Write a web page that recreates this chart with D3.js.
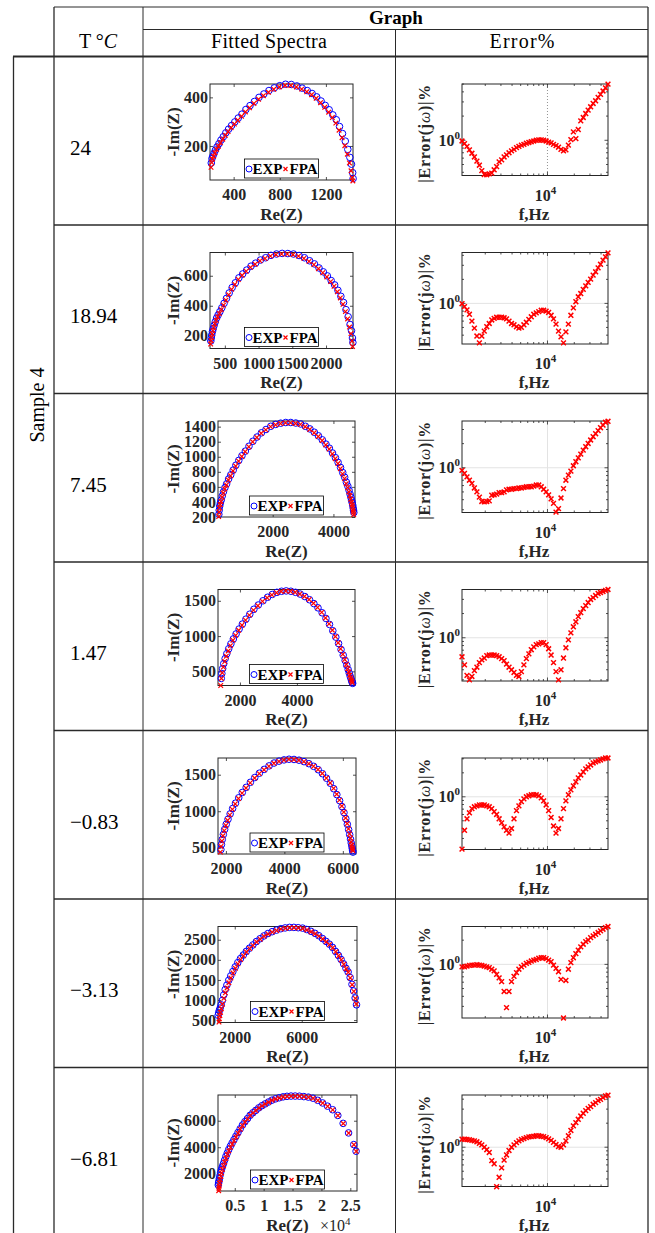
<!DOCTYPE html>
<html><head><meta charset="utf-8">
<script src="https://cdn.jsdelivr.net/npm/d3@7"></script>
<style>body{margin:0;background:#fff}svg{display:block}</style>
</head><body>
<svg id="chart" width="655" height="1233"></svg>
<script>
// ---------------- DATA ----------------
const temps = ["24", "18.94", "7.45", "1.47", "\u22120.83", "\u22123.13", "\u22126.81"];
const sampleLabel = "Sample 4";

// frequency grid of the error plots (Hz)
const freqHz = [1096,1169,1247,1328,1416,1510,1611,1718,1829,1950,2080,2218,2366,2518,2685,2864,3055,3258,3467,3698,
  3945,4207,4487,4775,5093,5433,5794,6180,6577,7015,7482,7980,8511,9057,9661,10304,10990,11695,12474,13305,
  14191,15136,16106,17179,18323,19543,20845,22182,23659,25235,26915,28642,30549,32584,34754,37068,39446,42073,44875,47863];

// |Error(jw)| % per temperature
const err24 = [0.98,0.91,0.84,0.76,0.69,0.62,0.55,0.49,0.42,0.376,0.373,0.383,0.39,0.43,0.47,0.54,0.57,0.62,0.66,0.70,
  0.74,0.77,0.81,0.84,0.87,0.89,0.92,0.94,0.96,0.98,1.0,1.01,1.01,1.0,0.98,0.95,0.93,0.89,0.86,0.82,
  0.77,0.74,0.76,0.87,1.02,1.27,1.05,1.36,1.74,1.92,2.15,2.37,2.61,2.87,3.10,3.41,3.72,4.10,4.47,5.0];
const err1894 = [0.99,0.91,0.83,0.73,0.60,0.49,0.39,0.32,0.39,0.45,0.51,0.56,0.62,0.65,0.67,0.67,0.67,0.66,0.64,0.60,
  0.56,0.54,0.51,0.49,0.50,0.54,0.58,0.63,0.68,0.73,0.76,0.79,0.82,0.82,0.80,0.77,0.71,0.64,0.55,0.45,
  0.38,0.32,0.44,0.55,0.71,0.88,1.05,1.21,1.33,1.50,1.66,1.83,2.01,2.26,2.49,2.79,3.09,3.48,3.83,4.3];
const err745 = [0.93,0.85,0.77,0.70,0.64,0.56,0.50,0.43,0.38,0.376,0.38,0.386,0.455,0.46,0.47,0.49,0.49,0.50,0.53,0.54,
  0.54,0.55,0.55,0.56,0.56,0.57,0.58,0.58,0.58,0.59,0.61,0.61,0.58,0.54,0.50,0.46,0.41,0.36,0.28,0.31,
  0.42,0.55,0.70,0.81,0.91,1.06,1.19,1.33,1.48,1.66,1.83,2.01,2.22,2.44,2.66,2.90,3.16,3.41,3.69,3.80];
const err147 = [0.58,0.46,0.34,0.30,0.33,0.39,0.43,0.49,0.53,0.56,0.60,0.61,0.61,0.61,0.60,0.58,0.55,0.52,0.47,0.43,
  0.40,0.37,0.34,0.33,0.38,0.46,0.55,0.63,0.71,0.77,0.82,0.84,0.87,0.87,0.82,0.73,0.61,0.49,0.38,0.30,
  0.40,0.56,0.75,0.94,1.15,1.37,1.58,1.83,2.05,2.30,2.51,2.74,2.99,3.16,3.35,3.55,3.65,3.76,3.87,3.98];
const errM083 = [0.22,0.38,0.53,0.63,0.71,0.75,0.77,0.79,0.79,0.79,0.77,0.75,0.71,0.65,0.60,0.53,0.47,0.42,0.38,0.35,
  0.40,0.53,0.67,0.77,0.87,0.94,1.0,1.03,1.06,1.06,1.06,1.03,0.97,0.89,0.79,0.67,0.55,0.43,0.35,0.40,
  0.53,0.71,0.89,1.06,1.22,1.37,1.54,1.73,1.88,2.05,2.24,2.37,2.51,2.66,2.74,2.82,2.90,2.99,3.07,3.07];
const errM313 = [0.93,0.93,0.95,0.97,0.98,0.98,0.99,0.98,0.97,0.95,0.93,0.91,0.87,0.83,0.75,0.68,0.61,0.46,0.29,0.46,
  0.61,0.71,0.79,0.87,0.93,0.98,1.03,1.06,1.10,1.13,1.15,1.19,1.21,1.21,1.18,1.13,1.08,0.98,0.89,0.81,
  0.65,0.215,0.63,0.87,1.05,1.21,1.36,1.50,1.65,1.78,1.92,2.01,2.15,2.26,2.37,2.49,2.61,2.74,2.87,2.96];
const errM681 = [1.26,1.26,1.25,1.24,1.22,1.20,1.17,1.12,1.07,1.0,0.93,0.86,0.68,0.62,0.32,0.42,0.55,0.69,0.80,0.91,
  1.0,1.07,1.14,1.20,1.25,1.28,1.32,1.35,1.36,1.37,1.39,1.39,1.37,1.36,1.32,1.27,1.22,1.15,1.08,1.02,
  1.0,1.07,1.20,1.39,1.62,1.85,2.03,2.24,2.46,2.66,2.87,3.07,3.22,3.45,3.62,3.83,3.98,4.18,4.39,4.5];
const errSeries = [err24, err1894, err745, err147, errM083, errM313, errM681];
const errYDomain = [[0.365,5.01],[0.31,4.34],[0.277,3.83],[0.29,3.98],[0.218,3.07],[0.215,2.96],[0.322,4.51]];

// Nyquist data: EXP (measured) and FPA (fitted)
const exp24Re = [206,212,220,230,242,256,272,290,310,332,356,382,410,440,472,506,542,580,620,662,706,752,800,850,900,948,994,1038,1080,1120,1158,1194,1228,1260,1290,1318,1344,1368,1390,1408,1422,1432,1436];
const exp24Im = [130,148,158,170,183,196,209,224,238,254,269,284,299,315,331,350,366,383,400,414,428,439,448,454,453,447,438,428,416,402,385,367,349,328,308,280,251,220,186,153,125,90,66];
const fpa24Re = [204,210,217,226,238,252,268,286,306,328,352,378,406,436,468,502,538,576,616,658,702,748,796,846,896,944,990,1034,1076,1116,1154,1190,1224,1256,1286,1314,1340,1364,1386,1404,1418,1428,1434];
const fpa24Im = [112,132,146,158,172,186,199,213,228,244,259,275,290,306,322,340,357,375,392,407,421,433,443,449,449,443,434,423,411,396,378,359,339,317,294,265,234,201,166,130,98,70,56];

const exp1894Re = [292,298,306,316,328,342,358,378,400,426,455,488,524,564,608,656,708,764,824,888,956,1028,1104,1184,1266,1350,1434,1518,1600,1680,1756,1828,1896,1960,2020,2076,2128,2176,2220,2260,2296,2328,2356,2378,2392,2398];
const exp1894Im = [165,185,205,228,248,270,293,318,338,360,386,416,449,485,521,553,586,612,638,664,684,705,720,736,745,749,748,745,735,720,700,679,652,626,599,568,539,503,463,422,374,327,275,233,185,155];
const fpa1894Re = [290,296,303,312,323,337,353,372,394,419,448,480,516,556,600,648,700,756,816,880,948,1020,1096,1176,1258,1342,1426,1510,1592,1672,1748,1820,1888,1952,2012,2068,2120,2168,2212,2252,2288,2320,2348,2370,2386,2394];
const fpa1894Im = [145,168,190,212,234,256,279,303,325,348,374,404,437,473,509,542,575,603,630,656,677,699,715,731,741,745,745,741,731,716,696,674,647,620,592,561,530,493,452,410,361,312,258,214,165,128];

const exp745Re = [228,240,256,278,306,340,380,428,484,548,620,700,788,884,988,1100,1220,1348,1484,1628,1780,1938,2100,2264,2430,2596,2760,2920,3076,3226,3370,3506,3634,3754,3866,3970,4066,4154,4234,4306,4370,4426,4474,4514,4548,4576,4600,4620,4636,4650,4662,4672];
const exp745Im = [235,290,345,385,425,480,535,590,640,705,760,823,888,952,1013,1075,1140,1206,1262,1318,1362,1405,1430,1446,1455,1455,1448,1436,1405,1370,1326,1278,1225,1168,1114,1050,988,925,858,790,728,662,610,555,503,460,420,388,357,320,290,260];
const fpa745Re = [222,234,250,272,300,334,374,422,478,542,614,694,782,878,982,1094,1214,1342,1478,1622,1774,1932,2094,2258,2424,2590,2754,2914,3070,3220,3364,3500,3628,3748,3860,3964,4060,4148,4228,4300,4364,4420,4468,4508,4542,4570,4594,4614,4630,4644,4656,4666];
const fpa745Im = [205,265,322,365,405,462,518,574,626,691,747,811,877,942,1004,1067,1133,1199,1256,1312,1357,1400,1425,1441,1450,1450,1443,1430,1399,1363,1318,1269,1215,1157,1102,1037,974,910,842,773,710,643,590,534,481,437,396,362,330,292,262,230];

const exp147Re = [1345,1365,1394,1432,1480,1538,1605,1682,1769,1865,1971,2086,2211,2346,2490,2644,2808,2971,3135,3298,3462,3625,3789,3952,4116,4280,4443,4597,4741,4886,5020,5145,5261,5367,5463,5550,5626,5694,5751,5800,5838,5872,5901,5925,5944,5958];
const exp147Im = [400,470,540,610,680,750,820,890,960,1030,1100,1170,1240,1310,1380,1440,1500,1550,1590,1620,1635,1640,1635,1620,1595,1560,1515,1460,1400,1330,1250,1165,1075,985,895,810,730,655,585,525,475,430,395,365,345,330];
const fpa147Re = [1326,1350,1379,1418,1466,1523,1591,1668,1754,1850,1956,2072,2197,2331,2476,2630,2793,2957,3120,3284,3447,3611,3774,3938,4102,4265,4429,4583,4727,4871,5006,5131,5246,5352,5448,5535,5612,5679,5737,5785,5823,5857,5886,5910,5929,5944];
const fpa147Im = [300,400,480,560,640,715,790,865,940,1010,1082,1154,1226,1297,1368,1430,1492,1543,1584,1615,1632,1638,1634,1620,1596,1562,1518,1464,1405,1336,1257,1173,1084,994,905,820,741,667,598,539,490,446,411,382,362,340];

const expM083Re = [1828,1848,1876,1913,1958,2011,2072,2145,2230,2328,2438,2560,2694,2837,2987,3146,3309,3476,3646,3817,3988,4159,4330,4501,4672,4839,5001,5156,5303,5441,5571,5689,5795,5889,5970,6039,6100,6153,6198,6234,6263,6287,6308,6324,6336,6346];
const expM083Im = [475,544,613,682,751,821,890,963,1037,1110,1184,1257,1327,1396,1461,1521,1573,1621,1660,1686,1703,1712,1709,1699,1679,1651,1615,1569,1514,1452,1383,1308,1227,1145,1063,981,898,821,747,678,617,565,522,488,462,440];
const fpaM083Re = [1811,1832,1862,1899,1945,1999,2060,2134,2221,2319,2430,2553,2688,2831,2982,3142,3305,3471,3642,3813,3984,4155,4326,4497,4668,4835,4997,5152,5298,5437,5567,5685,5791,5884,5966,6035,6096,6149,6194,6230,6259,6283,6304,6320,6332,6343];
const fpaM083Im = [440,518,591,663,734,805,876,950,1025,1099,1174,1248,1318,1388,1454,1515,1568,1616,1656,1683,1701,1710,1708,1698,1679,1651,1616,1571,1517,1455,1387,1313,1233,1152,1071,989,908,831,758,690,630,579,537,503,478,457];

const expM313Re = [1010,1040,1080,1130,1190,1260,1340,1430,1530,1640,1760,1890,2030,2180,2340,2510,2690,2880,3080,3290,3510,3740,3980,4230,4490,4750,5010,5270,5530,5790,6050,6300,6550,6790,7020,7240,7450,7650,7840,8020,8190,8350,8500,8640,8770,8890,9000,9100,9190,9270];
const expM313Im = [620,680,740,800,880,990,1125,1260,1370,1490,1600,1710,1825,1930,2030,2120,2210,2290,2370,2455,2525,2595,2655,2700,2740,2775,2795,2808,2808,2800,2790,2755,2710,2660,2600,2530,2460,2390,2310,2210,2110,2010,1900,1790,1700,1560,1390,1225,1050,880];
const fpaM313Re = [1060,1080,1110,1150,1200,1270,1350,1440,1540,1650,1770,1900,2040,2190,2350,2520,2700,2890,3090,3300,3520,3750,3990,4240,4500,4760,5020,5280,5540,5800,6060,6310,6560,6800,7030,7250,7460,7660,7850,8030,8200,8360,8510,8650,8780,8900,9010,9110,9200,9260];
const fpaM313Im = [450,530,610,690,780,900,1040,1180,1300,1430,1550,1670,1790,1900,2005,2100,2195,2280,2360,2445,2515,2585,2645,2690,2730,2765,2785,2798,2800,2793,2780,2745,2700,2650,2590,2520,2450,2380,2300,2200,2100,2000,1890,1780,1690,1550,1380,1215,1040,900];

const expM681Re = [2150,2200,2260,2340,2440,2560,2700,2860,3040,3240,3460,3700,3960,4240,4540,4860,5200,5560,5940,6340,6760,7200,7660,8140,8640,9160,9700,10260,10840,11440,12060,12700,13360,14040,14740,15460,16200,16960,17740,18540,19360,20200,21060,21940,22840,23760,24700,25600,26000];
const expM681Im = [1150,1300,1450,1640,1860,2100,2330,2540,2760,3020,3300,3560,3830,4080,4320,4570,4830,5110,5390,5680,5930,6160,6410,6600,6780,6970,7130,7270,7410,7550,7650,7730,7800,7840,7860,7860,7850,7820,7780,7700,7540,7340,7100,6830,6400,5800,5080,4200,3700];
const fpaM681Re = [2220,2260,2310,2380,2470,2580,2720,2880,3060,3260,3480,3720,3980,4260,4560,4880,5220,5580,5960,6360,6780,7220,7680,8160,8660,9180,9720,10280,10860,11460,12080,12720,13380,14060,14760,15480,16220,16980,17760,18560,19380,20220,21080,21960,22860,23780,24720,25620,26020];
const fpaM681Im = [720,900,1080,1300,1550,1800,2060,2330,2600,2880,3170,3450,3730,3990,4240,4500,4770,5060,5350,5640,5900,6140,6390,6590,6770,6960,7120,7260,7400,7540,7640,7720,7790,7830,7850,7850,7840,7810,7770,7690,7530,7330,7090,6820,6390,5790,5070,4190,3690];

const expRe = [exp24Re, exp1894Re, exp745Re, exp147Re, expM083Re, expM313Re, expM681Re];
const expIm = [exp24Im, exp1894Im, exp745Im, exp147Im, expM083Im, expM313Im, expM681Im];
const fpaRe = [fpa24Re, fpa1894Re, fpa745Re, fpa147Re, fpaM083Re, fpaM313Re, fpaM681Re];
const fpaIm = [fpa24Im, fpa1894Im, fpa745Im, fpa147Im, fpaM083Im, fpaM313Im, fpaM681Im];

const nyqXDomain = [[195,1435],[280,2400],[200,4710],[1230,6040],[1730,6450],[1000,9300],[2100,26160]];
const nyqYDomain = [[60,455],[115,755],[200,1475],[300,1660],[414,1729],[440,2830],[700,7940]];
const nyqXTicks = [[400,800,1200],[500,1000,1500,2000],[2000,4000],[2000,4000],[2000,4000,6000],[2000,6000],[5000,10000,15000,20000,25000]];
const nyqYTicks = [[200,400],[200,400,600],[200,400,600,800,1000,1200,1400],[500,1000,1500],[500,1000,1500],[500,1000,1500,2000,2500],[2000,4000,6000]];

// ---------------- LAYOUT ----------------
const FONT = "'Liberation Serif','Times New Roman',Times,serif";
const AX = "#262626";
const rowTop0 = 56.5, rowH = 168.5;
const nyqLeft = [210,210,218,218,218,218,218];
const nyqRight = [353,353,355,355,356,357,357];
const svg = d3.select("#chart");
svg.append("rect").attr("width",655).attr("height",1233).attr("fill","#fff");

// table rules
const rules = svg.append("g").attr("fill","none").attr("stroke","#2a2a2a");
function hline(y,x1,x2,w){rules.append("line").attr("x1",x1).attr("x2",x2).attr("y1",y).attr("y2",y).attr("stroke-width",w);}
function vline(x,y1,y2,w){rules.append("line").attr("x1",x).attr("x2",x).attr("y1",y1).attr("y2",y2).attr("stroke-width",w);}
hline(7,54,648,1); hline(29.5,143,648,1); hline(56.5,13,648,1.8);
for (let k=1;k<7;k++) hline(rowTop0+k*rowH,54,648,1.3);
vline(13.5,56.5,1233,1.3); vline(54,7,1233,1.3); vline(143,7,1233,1); vline(395.5,29.5,1233,1); vline(648,7,1233,1.3);

// header
const hdr = svg.append("g").attr("font-family",FONT).attr("fill","#000");
hdr.append("text").attr("x",396).attr("y",24).attr("text-anchor","middle").attr("font-weight","bold").attr("font-size",19).text("Graph");
const tC = hdr.append("text").attr("x",98).attr("y",48).attr("text-anchor","middle").attr("font-size",20);
tC.append("tspan").text("T \u00b0");
tC.append("tspan").attr("font-style","italic").text("C");
hdr.append("text").attr("x",269).attr("y",48).attr("text-anchor","middle").attr("font-size",20).attr("textLength",116).text("Fitted Spectra");
hdr.append("text").attr("x",522).attr("y",48).attr("text-anchor","middle").attr("font-size",20).attr("textLength",65).text("Error%");

// sample label
hdr.append("text").attr("transform","translate(44,405) rotate(-90)").attr("text-anchor","middle").attr("font-size",20).text(sampleLabel);

// temperatures
temps.forEach((t,i)=>{
  hdr.append("text").attr("x",70).attr("y",rowTop0+i*rowH+98).attr("font-size",21).text(t);
});

function cross(s){return `M${-s},${-s}L${s},${s}M${-s},${s}L${s},${-s}`;}

function styleAxis(g){
  g.selectAll(".domain").remove();
  g.selectAll(".tick line").attr("stroke",AX).attr("stroke-width",0.8);
  g.selectAll(".tick text").attr("font-family",FONT).attr("font-weight","bold").attr("font-size",16).attr("fill",AX);
}

function nyquist(i){
  const top = rowTop0+i*rowH+27.5, bot = top+96;
  const L = nyqLeft[i], R = nyqRight[i];
  const x = d3.scaleLinear().domain(nyqXDomain[i]).range([L,R]);
  const y = d3.scaleLinear().domain(nyqYDomain[i]).range([bot,top]);
  const g = svg.append("g");
  const fmt = i===6 ? (d=>d3.format("~g")(d/1e4)) : (d=>String(d));
  g.append("g").attr("transform",`translate(0,${bot})`).call(d3.axisBottom(x).tickValues(nyqXTicks[i]).tickSizeInner(-3).tickSizeOuter(0).tickPadding(9).tickFormat(fmt)).call(styleAxis);
  g.append("g").attr("transform",`translate(0,${top})`).call(d3.axisTop(x).tickValues(nyqXTicks[i]).tickSizeInner(-3).tickSizeOuter(0).tickFormat("")).call(styleAxis);
  g.append("g").attr("transform",`translate(${L},0)`).call(d3.axisLeft(y).tickValues(nyqYTicks[i]).tickSizeInner(-3).tickSizeOuter(0).tickPadding(2).tickFormat(d=>String(d))).call(styleAxis);
  g.append("g").attr("transform",`translate(${R},0)`).call(d3.axisRight(y).tickValues(nyqYTicks[i]).tickSizeInner(-3).tickSizeOuter(0).tickFormat("")).call(styleAxis);
  g.append("rect").attr("x",L).attr("y",top).attr("width",R-L).attr("height",bot-top).attr("fill","none").attr("stroke",AX).attr("stroke-width",1);
  g.append("g").selectAll("circle").data(d3.zip(expRe[i],expIm[i])).join("circle")
    .attr("cx",d=>x(d[0])).attr("cy",d=>y(d[1])).attr("r",3.3).attr("fill","none").attr("stroke","#0000ff").attr("stroke-width",1);
  g.append("g").selectAll("path").data(d3.zip(fpaRe[i],fpaIm[i])).join("path")
    .attr("d",cross(2.3)).attr("transform",d=>`translate(${x(d[0])},${y(d[1])})`).attr("stroke","#ff0000").attr("stroke-width",1.2).attr("fill","none");
  // legend
  const cx = (L+R)/2, lx = cx-37, ly = bot-21;
  const lg = g.append("g");
  lg.append("rect").attr("x",lx).attr("y",ly).attr("width",74).attr("height",19).attr("fill","#fff").attr("stroke","#000").attr("stroke-width",0.8);
  lg.append("circle").attr("cx",lx+4.5).attr("cy",ly+10).attr("r",3).attr("fill","none").attr("stroke","#0000ff").attr("stroke-width",1);
  lg.append("text").attr("x",lx+8).attr("y",ly+15).attr("font-family",FONT).attr("font-weight","bold").attr("font-size",15).attr("fill","#000").text("EXP");
  lg.append("path").attr("d",cross(2)).attr("transform",`translate(${lx+41},${ly+10})`).attr("stroke","#ff0000").attr("stroke-width",1.2);
  lg.append("text").attr("x",lx+45).attr("y",ly+15).attr("font-family",FONT).attr("font-weight","bold").attr("font-size",15).attr("fill","#000").text("FPA");
  // labels
  g.append("text").attr("x",(L+R)/2).attr("y",rowTop0+i*rowH+163).attr("text-anchor","middle").attr("font-family",FONT).attr("font-weight","bold").attr("font-size",17).attr("fill",AX).text("Re(Z)");
  g.append("text").attr("transform",`translate(179,${(top+bot)/2}) rotate(-90)`).attr("text-anchor","middle").attr("font-family",FONT).attr("font-weight","bold").attr("font-size",17).attr("fill",AX).text("-Im(Z)");
  if (i===6){
    const t = g.append("text").attr("x",320).attr("y",rowTop0+i*rowH+163.5).attr("font-family",FONT).attr("font-size",16).attr("fill",AX);
    t.append("tspan").text("\u00d710");
    t.append("tspan").attr("dy",-6).attr("font-size",11).text("4");
  }
}

function errPlot(i){
  const top = rowTop0+i*rowH+27.5, bot = top+91.5, L = 462, R = 608;
  const x = d3.scaleLog().domain([freqHz[0],freqHz[freqHz.length-1]]).range([L,R]);
  const y = d3.scaleLog().domain(errYDomain[i]).range([bot,top]);
  const g = svg.append("g");
  if (i===0){
    g.append("line").attr("x1",x(1e4)).attr("x2",x(1e4)).attr("y1",top).attr("y2",bot).attr("stroke","#777").attr("stroke-width",0.8).attr("stroke-dasharray","1,2");
  } else {
    g.append("line").attr("x1",x(1e4)).attr("x2",x(1e4)).attr("y1",top).attr("y2",bot).attr("stroke","#e3e3e3").attr("stroke-width",1);
    g.append("line").attr("x1",L).attr("x2",R).attr("y1",y(1)).attr("y2",y(1)).attr("stroke","#e3e3e3").attr("stroke-width",1);
  }
  const xMinor = [2000,3000,4000,5000,6000,7000,8000,9000,20000,30000,40000].filter(v=>v>x.domain()[0]&&v<x.domain()[1]);
  const yMinor = [0.2,0.3,0.4,0.5,0.6,0.7,0.8,0.9,2,3,4,5,6,7,8,9].filter(v=>v>y.domain()[0]&&v<y.domain()[1]);
  const tk = g.append("g").attr("stroke",AX).attr("stroke-width",0.8);
  [[1e4,3.5]].concat(xMinor.map(v=>[v,2])).forEach(([v,s])=>{
    tk.append("line").attr("x1",x(v)).attr("x2",x(v)).attr("y1",bot).attr("y2",bot-s);
    tk.append("line").attr("x1",x(v)).attr("x2",x(v)).attr("y1",top).attr("y2",top+s);
  });
  [[1,3.5]].concat(yMinor.map(v=>[v,2])).forEach(([v,s])=>{
    tk.append("line").attr("y1",y(v)).attr("y2",y(v)).attr("x1",L).attr("x2",L+s);
    tk.append("line").attr("y1",y(v)).attr("y2",y(v)).attr("x1",R).attr("x2",R-s);
  });
  g.append("rect").attr("x",L).attr("y",top).attr("width",R-L).attr("height",bot-top).attr("fill","none").attr("stroke",AX).attr("stroke-width",1);
  g.append("g").selectAll("path").data(d3.zip(freqHz,errSeries[i])).join("path")
    .attr("d",cross(2.4)).attr("transform",d=>`translate(${x(d[0])},${y(d[1])})`).attr("stroke","#ff0000").attr("stroke-width",1.5).attr("fill","none");
  // tick labels
  const yl = g.append("text").attr("x",L-2).attr("y",y(1)+5.5).attr("text-anchor","end").attr("font-family",FONT).attr("font-weight","bold").attr("font-size",16).attr("fill",AX);
  yl.append("tspan").text("10"); yl.append("tspan").attr("dy",-7).attr("font-size",11).text("0");
  const xl = g.append("text").attr("x",x(1e4)-2).attr("y",rowTop0+i*rowH+144).attr("text-anchor","middle").attr("font-family",FONT).attr("font-weight","bold").attr("font-size",16).attr("fill",AX);
  xl.append("tspan").text("10"); xl.append("tspan").attr("dy",-7).attr("font-size",11).text("4");
  g.append("text").attr("x",(L+R)/2-1).attr("y",rowTop0+i*rowH+163).attr("text-anchor","middle").attr("font-family",FONT).attr("font-weight","bold").attr("font-size",17).attr("fill",AX).text("f,Hz");
  const t = g.append("text").attr("transform",`translate(430,${(top+bot)/2+4}) rotate(-90)`).attr("text-anchor","middle").attr("font-family",FONT).attr("font-weight","bold").attr("font-size",16).attr("fill",AX).attr("textLength",98);
  t.append("tspan").text("|Error(j");
  t.append("tspan").attr("font-style","italic").attr("font-weight","normal").text("\u03c9");
  t.append("tspan").text(")|%");
}

for (let i=0;i<7;i++){ nyquist(i); errPlot(i); }
</script>
</body></html>
